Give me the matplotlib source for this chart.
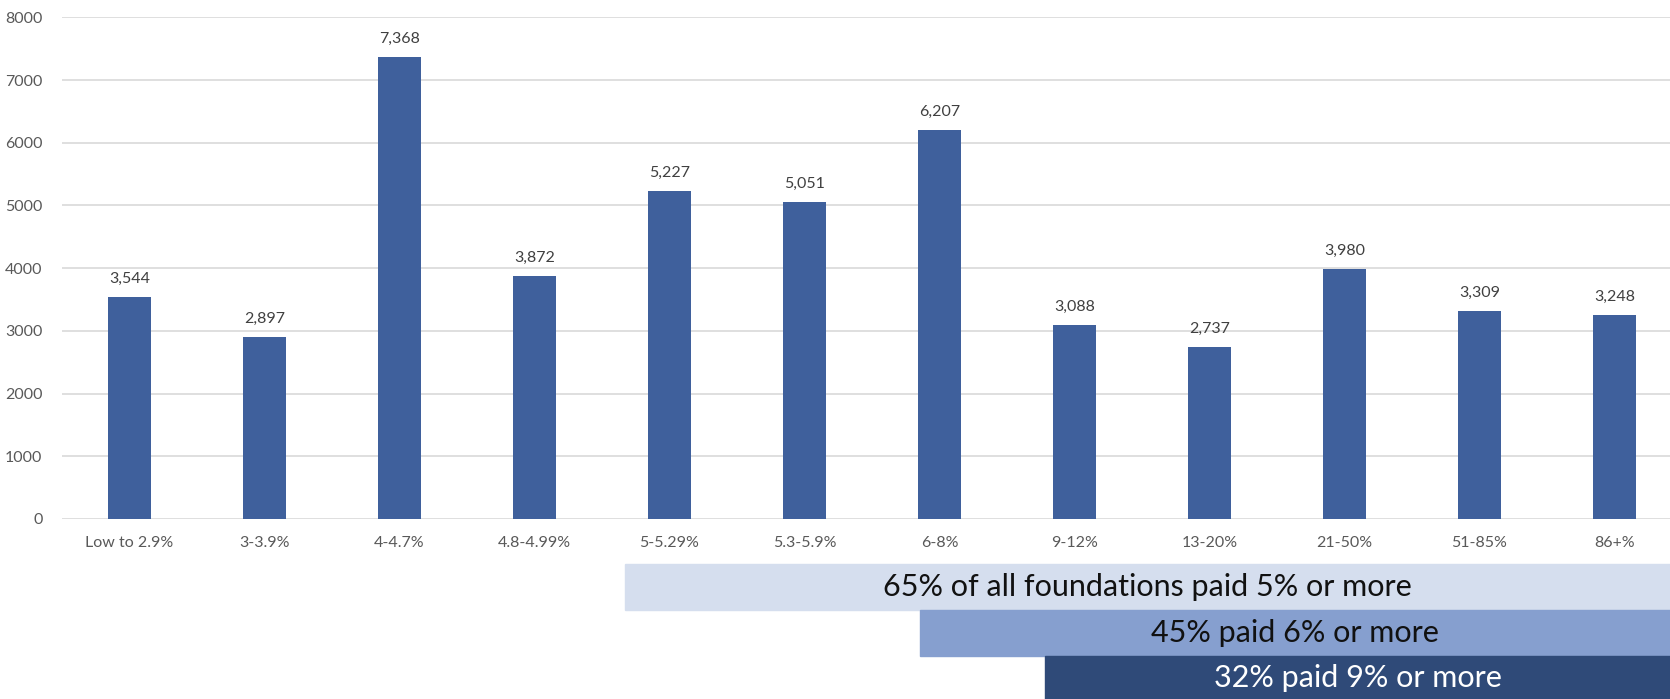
import matplotlib
matplotlib.use("Agg")
import matplotlib.pyplot as plt
from matplotlib.patches import Rectangle

# payout rate buckets and number of foundations
categories = ["Low to 2.9%", "3-3.9%", "4-4.7%", "4.8-4.99%", "5-5.29%", "5.3-5.9%",
              "6-8%", "9-12%", "13-20%", "21-50%", "51-85%", "86+%"]
counts = [3544, 2897, 7368, 3872, 5227, 5051, 6207, 3088, 2737, 3980, 3309, 3248]
yticks = [0, 1000, 2000, 3000, 4000, 5000, 6000, 7000, 8000]

# summary bands under the chart
band_texts = ["65% of all foundations paid 5% or more",
              "45% paid 6% or more",
              "32% paid 9% or more"]
band_colors = ["#D5DEEE", "#869FCF", "#2F4A78"]
band_text_colors = ["#111111", "#111111", "#FFFFFF"]

plt.rcParams['font.family'] = ['Lato', 'DejaVu Sans']

W, H = 1670, 699
fig = plt.figure(figsize=(W / 100, H / 100), dpi=100)
ax = fig.add_axes([62 / W, (H - 519) / H, 1 - 62 / W, (519 - 17.3) / H])

bar_color = "#3F609C"
x = range(len(categories))
bars = ax.bar(x, counts, width=0.32, color=bar_color, zorder=3)

for b, v in zip(bars, counts):
    ax.annotate(f"{v:,}", (b.get_x() + b.get_width() / 2, v),
                xytext=(0, 8), textcoords="offset points",
                ha="center", va="bottom", fontsize=11.5, color="#404040")

ax.set_xlim(-0.5, (W - 62) / 135 - 0.5)
ax.set_ylim(0, 8000)
ax.set_yticks(yticks)
ax.set_xticks(list(x))
ax.set_xticklabels(categories)
ax.tick_params(axis="both", length=0, labelsize=11.5, labelcolor="#595959")
ax.tick_params(axis="x", pad=12)
ax.tick_params(axis="y", pad=14)
ax.grid(axis="y", color="#D9D9D9", linewidth=1.2, zorder=0)
for s in ax.spines.values():
    s.set_visible(False)

# stacked summary bands (figure pixels)
band_left = [625, 920, 1045]
band_top = [564, 610, 656]
band_h = [46, 46, 43]
for left, top, h, txt, col, tcol in zip(band_left, band_top, band_h,
                                        band_texts, band_colors, band_text_colors):
    fig.patches.append(Rectangle((left / W, (H - top - h) / H), 1 - left / W, h / H,
                                 transform=fig.transFigure, color=col, zorder=1))
    fig.text((left + W) / 2 / W, (H - top - h / 2) / H, txt, ha="center", va="center",
             fontsize=22, color=tcol)

fig.savefig("out.png", dpi=100)
